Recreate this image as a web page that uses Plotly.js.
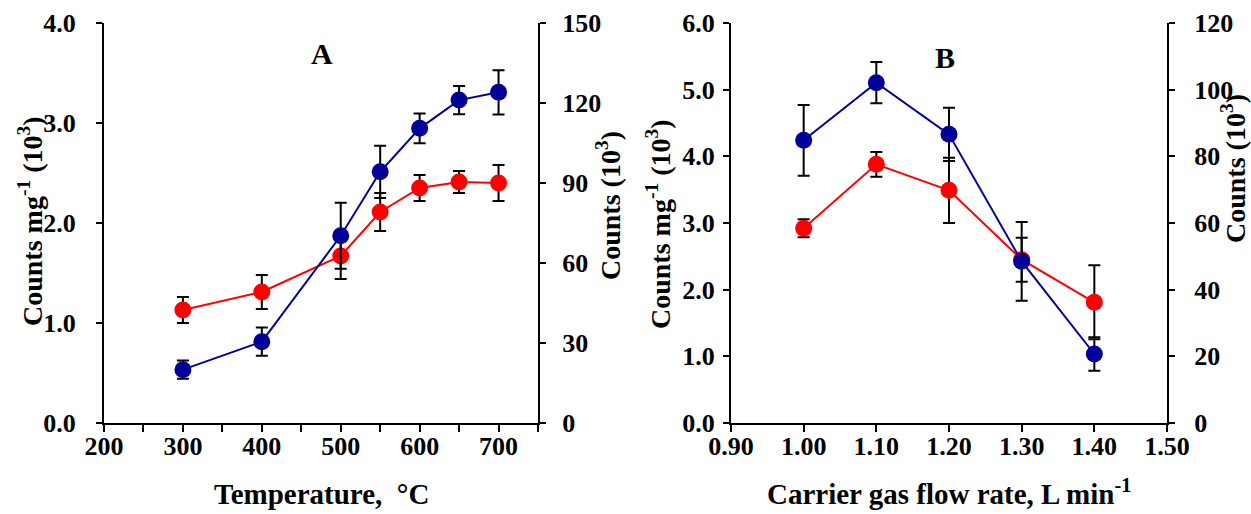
<!DOCTYPE html>
<html>
<head>
<meta charset="utf-8">
<script src="https://cdn.plot.ly/plotly-3.0.1.min.js"></script>
<style>html,body{margin:0;padding:0;background:#fff;}#chart{width:1251px;height:514px;}</style>
</head>
<body>
<div id="chart"></div>
<script>
// Panel A: temperature
const tempC = [300, 400, 500, 550, 600, 650, 700];
const tempRed = [1.13, 1.31, 1.67, 2.11, 2.35, 2.41, 2.40];      // Counts mg-1 (10^3)
const tempRedErr = [0.13, 0.17, 0.23, 0.19, 0.13, 0.11, 0.18];
const tempBlue = [20, 30.5, 70.2, 94.2, 110.5, 121.1, 124.0];     // Counts (10^3)
const tempBlueErr = [3.4, 5.3, 12.4, 9.8, 5.6, 5.3, 8.3];
const tempTickVals = [200, 250, 300, 350, 400, 450, 500, 550, 600, 650, 700, 750];
const tempTickText = ["200", "", "300", "", "400", "", "500", "", "600", "", "700", ""];

// Panel B: carrier gas flow rate
const flow = [1.00, 1.10, 1.20, 1.30, 1.40];
const flowRed = [2.92, 3.88, 3.49, 2.45, 1.81];                 // Counts mg-1 (10^3)
const flowRedErr = [0.135, 0.185, 0.49, 0.33, 0.555];
const flowBlue = [84.8, 102.1, 86.6, 48.5, 20.7];               // Counts (10^3)
const flowBlueErr = [10.6, 6.2, 8.0, 11.8, 5.0];

const RED = '#FF0000';
const BLUE = '#000099';
const FONT = 'Liberation Serif, Times New Roman, serif';

function errCfg(arr) {
  return {type: 'data', array: arr, visible: true, color: '#000', thickness: 2, width: 6};
}
function series(x, y, err, color, xa, ya) {
  return {
    x: x, y: y, xaxis: xa, yaxis: ya, type: 'scatter', mode: 'lines+markers',
    line: {color: color, width: 2},
    marker: {color: color, size: 17, symbol: 'circle'},
    error_y: errCfg(err), showlegend: false, hoverinfo: 'x+y'
  };
}

const data = [
  series(tempC, tempRed, tempRedErr, RED, 'x', 'y'),
  series(tempC, tempBlue, tempBlueErr, BLUE, 'x', 'y2'),
  series(flow, flowRed, flowRedErr, RED, 'x2', 'y3'),
  series(flow, flowBlue, flowBlueErr, BLUE, 'x2', 'y4')
];

const tickFont = {family: FONT, size: 26, color: '#000', weight: 'bold'};
const base = {
  showline: true, linecolor: '#000', linewidth: 2, mirror: false,
  ticks: 'outside', ticklen: 6, tickwidth: 2, tickcolor: '#000',
  showgrid: false, zeroline: false, tickfont: tickFont, fixedrange: true
};
const W = 1251, H = 514;
const xA = [104 / W, 538 / W], xB = [731 / W, 1167 / W];
const yD = [1 - 423 / H, 1 - 23 / H];

const layout = {
  width: W, height: H,
  margin: {l: 0, r: 0, t: 0, b: 0},
  paper_bgcolor: '#fff', plot_bgcolor: '#fff',
  font: {family: FONT, color: '#000'},
  showlegend: false,
  xaxis: Object.assign({}, base, {domain: xA, range: [200, 750], tickmode: 'array',
    tickvals: tempTickVals, ticktext: tempTickText, anchor: 'y', ticklen: 7, ticklabelstandoff: -8}),
  yaxis: Object.assign({}, base, {domain: yD, range: [0, 4], dtick: 1, tickformat: '.1f',
    anchor: 'x', ticklabelstandoff: 15}),
  yaxis2: Object.assign({}, base, {domain: yD, range: [0, 150], dtick: 30, overlaying: 'y',
    side: 'right', anchor: 'x', ticklabelstandoff: 11}),
  xaxis2: Object.assign({}, base, {domain: xB, range: [0.9, 1.5], dtick: 0.1, tickformat: '.2f',
    anchor: 'y3', ticklen: 7, ticklabelstandoff: -8}),
  yaxis3: Object.assign({}, base, {domain: yD, range: [0, 6], dtick: 1, tickformat: '.1f',
    anchor: 'x2', ticklabelstandoff: 3}),
  yaxis4: Object.assign({}, base, {domain: yD, range: [0, 120], dtick: 20, overlaying: 'y3',
    side: 'right', anchor: 'x2', ticklabelstandoff: 14}),
  annotations: [
    {text: 'A', x: 322 / W, y: 1 - 54 / H},
    {text: 'B', x: 945 / W, y: 1 - 57 / H},
    {text: 'Temperature,\u00A0 \u00B0C', x: 321 / W, y: 1 - 494 / H},
    {text: 'Carrier gas flow rate, L min<sup>-1</sup>', x: 949 / W, y: 1 - 492 / H},
    {text: 'Counts mg<sup>-1</sup> (10<sup>3</sup>)', x: 30 / W, y: 1 - 221 / H, textangle: -90},
    {text: 'Counts (10<sup>3</sup>)', x: 608 / W, y: 1 - 206 / H, textangle: -90},
    {text: 'Counts mg<sup>-1</sup> (10<sup>3</sup>)', x: 658 / W, y: 1 - 224 / H, textangle: -90},
    {text: 'Counts (10<sup>3</sup>)', x: 1234 / W, y: 1 - 169 / H, textangle: -90}
  ].map(function (a, i) {
    return Object.assign({xref: 'paper', yref: 'paper', showarrow: false,
      xanchor: 'center', yanchor: 'middle',
      font: {family: FONT, size: i < 2 ? 30 : (i < 4 ? 29 : 28), color: '#000', weight: 'bold'}}, a);
  })
};

Plotly.newPlot('chart', data, layout, {staticPlot: true, displayModeBar: false});
</script>
</body>
</html>
